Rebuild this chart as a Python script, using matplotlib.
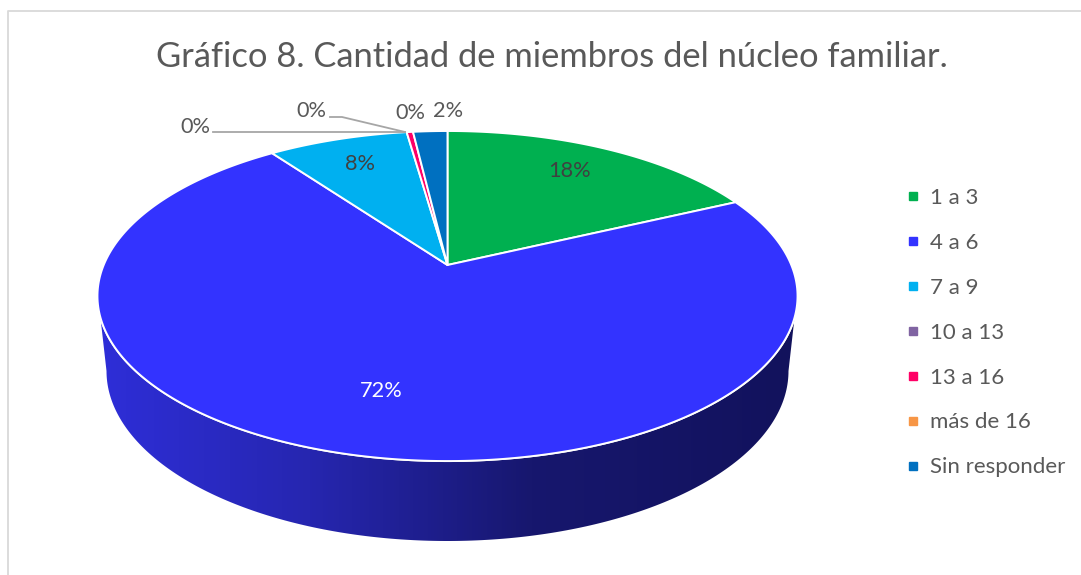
import matplotlib
matplotlib.use('Agg')
import matplotlib.pyplot as plt
from matplotlib.colors import LinearSegmentedColormap
from matplotlib.lines import Line2D
from matplotlib.patches import Polygon
import numpy as np

categories = ['1 a 3', '4 a 6', '7 a 9', '10 a 13', '13 a 16', 'más de 16', 'Sin responder']
values = [18, 72, 7.75, 0, 0.35, 0, 1.9]
colors = ['#00B050', '#3333FF', '#00B0F0', '#8064A2', '#FF0066', '#F79646', '#0070C0']
label_x = [569, 381, 360, 195, 410, 311, 448]
label_y = [171, 391, 164, 127, 113, 111, 111]
label_colors = ['#404040', 'white', '#404040', '#595959', '#595959', '#595959', '#595959']

plt.rcParams['font.family'] = ['Lato', 'DejaVu Sans']


# perspective of the pie top, theta clockwise from 12 o'clock
def project(theta, r=1.0):
    u = r * np.sin(theta)
    v = r * np.cos(theta)
    w = 1 + 0.188 * v
    return 447.5 + 343.8 * u / w, 265 - 159.2 * v / w


fig = plt.figure(figsize=(10.81, 5.75), dpi=100)
ax = fig.add_axes([0, 0, 1, 1])

# side wall with its horizontal gradient
t = np.linspace(np.pi, 0, 200)
wall_x = np.r_[100.5, 447.5 + 341 * np.cos(t), 794.5]
wall_y = np.r_[318, 371 + 170 * np.sin(t), 318]
wall = Polygon(np.c_[wall_x, wall_y], closed=True, fc='none', ec='none', transform=ax.transData)
ax.add_patch(wall)
cmap = LinearSegmentedColormap.from_list('wall', [(0, '#2E2ED8'), (0.3, '#2626B0'), (0.62, '#17176E'), (1, '#12125C')])
img = ax.imshow(np.linspace(0, 1, 400)[None, :], cmap=cmap, aspect='auto', extent=[98, 798, 545, 300], zorder=1)
img.set_clip_path(wall)

# top of the pie
full = np.linspace(0, 2 * np.pi, 400)
ox, oy = project(full)
ax.add_patch(Polygon(np.c_[ox, oy], closed=True, fc='#3333FF', ec='white', lw=1.4, zorder=2))
start = 0.0
for val, col in zip(values, colors):
    if val > 0:
        end = start + val / sum(values) * 2 * np.pi
        th = np.linspace(start, end, max(3, int(val * 4)))
        px, py = project(th)
        px = np.r_[447.5, px]
        py = np.r_[265, py]
        ax.add_patch(Polygon(np.c_[px, py], closed=True, fc=col, ec='white', lw=1.4, joinstyle='round', zorder=3))
        start = end

# leader lines
ax.plot([213, 405], [132, 132], color='#A6A6A6', lw=1.3, zorder=4)
ax.plot([330, 342, 405], [117, 117, 132], color='#A6A6A6', lw=1.3, zorder=4)

for val, x, y, c in zip(values, label_x, label_y, label_colors):
    ax.text(x, y, f'{val:.0f}%', color=c, fontsize=15.7, ha='center', va='center', zorder=5)

ax.text(552, 57, 'Gráfico 8. Cantidad de miembros del núcleo familiar.', color='#595959',
        fontsize=24.8, ha='center', va='center')

# chart frame, only left and top are in the crop
ax.plot([8, 8, 1081], [575, 10.5, 10.5], color='#D9D9D9', lw=1.3, zorder=0)

handles = [Line2D([], [], ls='none', marker='s', ms=5.8, color=c) for c in colors]
ax.legend(handles, categories, loc='upper left', bbox_to_anchor=(900 / 1081, 1 - 188 / 575), frameon=False,
          fontsize=16, labelcolor='#595959', labelspacing=1.12, handletextpad=0.234, handlelength=1.125,
          borderpad=0, borderaxespad=0)

ax.set_xlim(0, 1081)
ax.set_ylim(575, 0)
ax.axis('off')
fig.savefig('out.png', dpi=100)
